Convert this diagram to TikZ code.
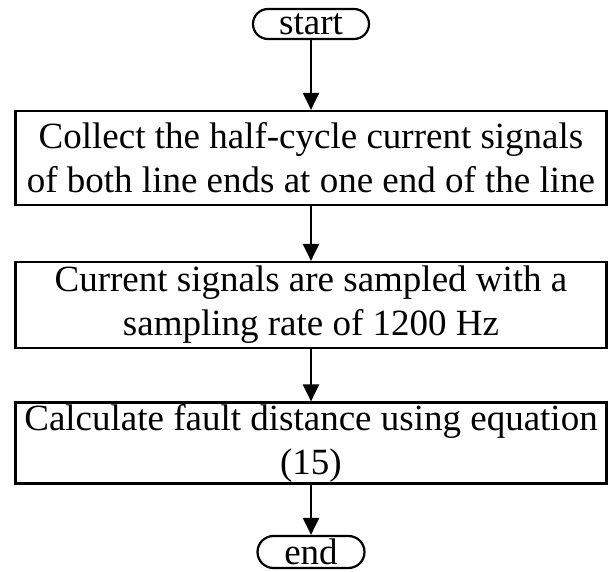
\documentclass[tikz,border=0pt]{standalone}
\usepackage{fontspec}
\setmainfont{Liberation Serif}
\usetikzlibrary{arrows.meta}
\begin{document}
\begin{tikzpicture}[x=1pt, y=-1pt, line width=2.2pt,
    terminal/.style={draw, rounded corners=15pt, minimum width=116pt, minimum height=30pt, inner sep=0pt, font=\fontsize{37}{44}\selectfont},
    process/.style={draw, minimum width=591pt, align=center, inner sep=0pt, font=\fontsize{37}{44}\selectfont},
    flow/.style={-{Triangle[length=17pt,width=16pt]}}]
    \useasboundingbox (0,0) rectangle (614,572);

    \node [terminal] (start) at (311,24) {start};
    \node [process, minimum height=94pt] (collect) at (311,158)
        {Collect the half-cycle current signals\\of both line ends at one end of the line};
    \node [process, minimum height=86pt] (sample) at (311,305)
        {Current signals are sampled with a\\sampling rate of 1200 Hz};
    \node [process, minimum height=81pt] (calc) at (311,443)
        {Calculate fault distance using equation\\(15)};
    \node [terminal, minimum width=107pt, minimum height=32pt, rounded corners=16pt] (end) at (311,552) {end};

    \draw [flow] (start) -- (collect);
    \draw [flow] (collect) -- (sample);
    \draw [flow] (sample) -- (calc);
    \draw [flow] (calc) -- (end);

\end{tikzpicture}
\end{document}
